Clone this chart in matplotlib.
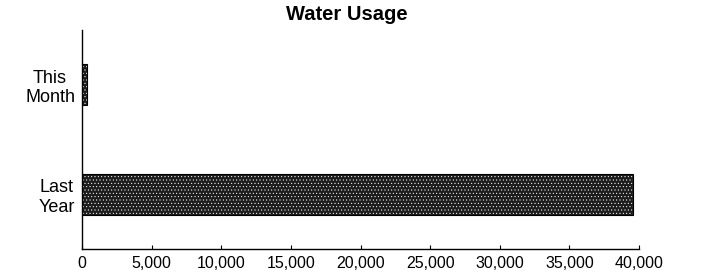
import numpy as np
import matplotlib.pyplot as plt

# data
categories = ['Last\nYear', 'This\nMonth']
usage = [39600, 350]
xticks = [0, 5000, 10000, 15000, 20000, 25000, 30000, 35000, 40000]

plt.rcParams['font.family'] = ['Liberation Sans', 'DejaVu Sans']
plt.rcParams['hatch.color'] = 'white'
plt.rcParams['hatch.linewidth'] = 0.35

fig = plt.figure(figsize=(7.15, 2.73), dpi=100)
ax = fig.add_axes([82/715, 1 - 249/273, (639-82)/715, (249-30)/273])

y = np.arange(len(categories))
ax.barh(y, usage, height=0.37, color='#1c1c1c', edgecolor='white', hatch='.....', linewidth=0)
ax.barh(y, usage, height=0.37, color='none', edgecolor='black', linewidth=0.8)

ax.set_xlim(0, 40000)
ax.set_ylim(-0.5, 1.5)
ax.set_xticks(xticks)
ax.set_xticklabels([f'{v:,}' for v in xticks], fontsize=11.5)
ax.set_yticks(y)
ax.set_yticklabels(categories, fontsize=13, multialignment='center')
ax.tick_params(axis='x', direction='in', length=3, pad=5)
ax.tick_params(axis='y', length=0, pad=5)
for s in ['top', 'right']:
    ax.spines[s].set_visible(False)
ax.spines['left'].set_linewidth(1.0)
ax.spines['bottom'].set_linewidth(1.0)

fig.text(347/715, 1 - 15/273, 'Water Usage', ha='center', va='center',
         fontsize=14.5, fontweight='bold')

fig.savefig('out.png', dpi=100)
